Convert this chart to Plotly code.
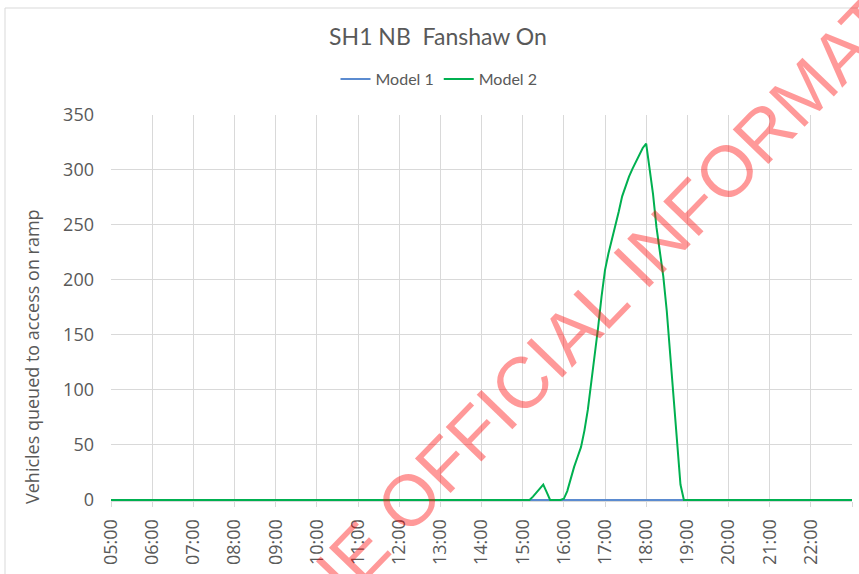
import plotly.graph_objects as go

# ---- data -------------------------------------------------------------
title_text = "SH1 NB  Fanshaw On"
y_title = "Vehicles queued to access on ramp"

hour_labels = ["05:00", "06:00", "07:00", "08:00", "09:00", "10:00", "11:00",
               "12:00", "13:00", "14:00", "15:00", "16:00", "17:00", "18:00",
               "19:00", "20:00", "21:00", "22:00", "23:00"]

model1_times = ["05:00", "23:00"]
model1_values = [0, 0]

model2_times = ["05:00", "15:10", "15:15", "15:20", "15:25", "15:30", "15:35",
                "15:40", "15:55", "16:00", "16:05", "16:10", "16:15", "16:20",
                "16:25", "16:30", "16:35", "16:40", "16:45", "16:50", "16:55",
                "17:00", "17:05", "17:10", "17:15", "17:20", "17:25", "17:30",
                "17:35", "17:40", "17:45", "17:50", "17:55", "18:00", "18:05",
                "18:10", "18:15", "18:20", "18:25", "18:30", "18:35", "18:40",
                "18:45", "18:50", "18:55", "23:00"]
model2_values = [0, 0, 3, 7, 11, 14, 7,
                 0, 0, 1, 8, 20, 30, 39,
                 48, 63, 82, 107, 130, 157, 185,
                 209, 224, 236, 250, 262, 276, 286,
                 294, 301, 307, 314, 320, 324, 302,
                 278, 248, 224, 203, 172, 134, 95,
                 57, 14, 0, 0]

watermark = "RELEASED UNDER THE OFFICIAL INFORMATION ACT"


def to_hours(t):
    h, m = t.split(":")
    return int(h) + int(m) / 60.0


# ---- layout geometry (pixels) ------------------------------------------
W, H = 859, 574
ML, MR, MT, MB = 111, 7, 115, 73
PW, PH = W - ML - MR, H - MT - MB


def px(x):
    return (x - ML) / PW


def py(y):
    return (H - MB - y) / PH


GREY_TEXT = "#595959"
GRID = "#D9D9D9"

fig = go.Figure()
fig.add_trace(go.Scatter(
    x=[to_hours(t) for t in model1_times], y=model1_values,
    mode="lines", name="Model 1",
    line=dict(color="#5B8BD0", width=2),
))
fig.add_trace(go.Scatter(
    x=[to_hours(t) for t in model2_times], y=model2_values,
    mode="lines", name="Model 2",
    line=dict(color="#00B050", width=2),
))

fig.update_layout(
    width=W, height=H,
    margin=dict(l=ML, r=MR, t=MT, b=MB, pad=0),
    paper_bgcolor="white", plot_bgcolor="white",
    title=dict(text=title_text, x=438 / W, xanchor="center",
               y=1 - 37 / H, yanchor="middle", yref="container",
               font=dict(family="Lato", size=23, color=GREY_TEXT)),
    legend=dict(orientation="h", x=px(439), xanchor="center",
                y=py(79), yanchor="middle",
                font=dict(family="Lato", size=16, color=GREY_TEXT),
                bgcolor="rgba(0,0,0,0)", itemwidth=30),
    showlegend=True,
)

fig.update_xaxes(
    range=[5, 23],
    tickmode="array",
    tickvals=[to_hours(t) for t in hour_labels],
    ticktext=hour_labels[:-1] + [""],
    tickangle=-90,
    tickfont=dict(family="Open Sans", size=18, color=GREY_TEXT),
    showgrid=True, gridcolor=GRID, gridwidth=1,
    ticks="outside", ticklen=5, tickcolor=GRID,
    showline=True, linecolor=GRID, linewidth=1,
    zeroline=False, ticklabelstandoff=5,
)
fig.update_yaxes(
    range=[-1, 350],
    tickmode="array", tickvals=list(range(0, 351, 50)),
    tickfont=dict(family="Open Sans", size=18, color=GREY_TEXT),
    showgrid=True, gridcolor=GRID, gridwidth=1,
    zeroline=False, showline=False, ticks="",
    ticklabelstandoff=16,
)

# y-axis title
fig.add_annotation(
    text=y_title, xref="paper", yref="paper", x=px(32), y=py(357),
    xanchor="center", yanchor="middle", textangle=-90, showarrow=False,
    font=dict(family="Open Sans", size=18, color=GREY_TEXT),
)

# chart-area frame
fig.add_shape(type="rect", xref="paper", yref="paper",
              x0=px(5), x1=px(875), y0=py(590), y1=py(8),
              line=dict(color=GRID, width=1), layer="below")

# diagonal release stamp
fig.add_annotation(
    text=watermark, xref="paper", yref="paper", x=px(444), y=py(464),
    xanchor="center", yanchor="middle", textangle=-46, showarrow=False,
    font=dict(family="Liberation Sans", size=72, color="rgba(255,0,0,0.40)"),
)

fig.write_html("out.html")
